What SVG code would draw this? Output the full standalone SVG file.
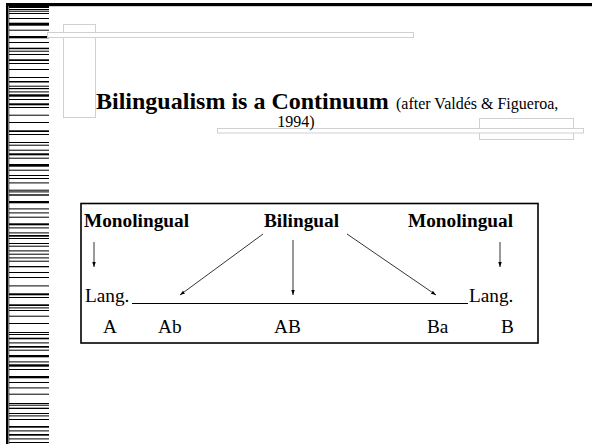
<svg xmlns="http://www.w3.org/2000/svg" width="592" height="444" viewBox="0 0 592 444">
<style>
.bc rect{fill:#000}
.deco{fill:#fff;stroke:#d0d0d0;stroke-width:1}
text{font-family:"Liberation Serif","Times New Roman",serif;fill:#000}
.tb{font-weight:bold;font-size:19.3px}
.tr{font-size:19.3px}
.tt{font-weight:bold;font-size:24px}
.ts{font-size:16px}
.ln{stroke:#000;stroke-width:0.8;fill:none}
</style>
<defs>
<marker id="ah" viewBox="0 0 10 10" refX="10" refY="5" markerWidth="5" markerHeight="5" orient="auto" markerUnits="userSpaceOnUse">
<path d="M0,1.5 L10,5 L0,8.5 z" fill="#000"/>
</marker>
</defs>
<rect width="592" height="444" fill="#fff"/>
<g id="frame">
<rect x="6" y="3" width="586" height="3.2" fill="#000"/>
<rect x="6" y="3" width="2.6" height="441" fill="#000"/>
<rect x="8.6" y="6" width="1" height="438" fill="#999"/>
</g>
<g id="barcode" class="bc">
<rect x="9" y="4.7" width="40" height="3.3"/>
<rect x="9" y="9" width="40" height="1"/>
<rect x="9" y="10.7" width="40" height="1"/>
<rect x="9" y="13" width="40" height="1"/>
<rect x="9" y="18" width="40" height="1"/>
<rect x="9" y="22.7" width="40" height="3"/>
<rect x="9" y="29.7" width="40" height="1"/>
<rect x="9" y="36" width="40" height="2.3"/>
<rect x="9" y="42" width="40" height="1"/>
<rect x="9" y="47.7" width="40" height="1.5"/>
<rect x="9" y="50.7" width="40" height="1"/>
<rect x="9" y="54" width="40" height="1"/>
<rect x="9" y="59.3" width="40" height="1.7"/>
<rect x="9" y="63" width="40" height="1"/>
<rect x="9" y="69" width="40" height="1"/>
<rect x="9" y="77" width="40" height="1"/>
<rect x="9" y="81" width="40" height="1.5"/>
<rect x="9" y="85.7" width="40" height="1"/>
<rect x="9" y="88" width="40" height="1.2"/>
<rect x="9" y="91.4" width="40" height="1"/>
<rect x="9" y="94.3" width="40" height="2.4"/>
<rect x="9" y="99" width="40" height="1"/>
<rect x="9" y="103.3" width="40" height="2"/>
<rect x="9" y="107" width="40" height="1"/>
<rect x="9" y="114.7" width="40" height="1"/>
<rect x="9" y="122" width="40" height="1"/>
<rect x="9" y="130.3" width="40" height="1.7"/>
<rect x="9" y="134" width="40" height="1"/>
<rect x="9" y="142" width="40" height="1"/>
<rect x="9" y="144.7" width="40" height="1"/>
<rect x="9" y="149.7" width="40" height="1"/>
<rect x="9" y="153.3" width="40" height="2"/>
<rect x="9" y="157.7" width="40" height="1"/>
<rect x="9" y="164" width="40" height="2.7"/>
<rect x="9" y="169.7" width="40" height="1"/>
<rect x="9" y="175" width="40" height="1"/>
<rect x="9" y="178" width="40" height="1"/>
<rect x="9" y="182.4" width="40" height="1"/>
<rect x="9" y="189.7" width="40" height="1"/>
<rect x="9" y="191.4" width="40" height="1"/>
<rect x="9" y="194.3" width="40" height="1.4"/>
<rect x="9" y="201" width="40" height="2.3"/>
<rect x="9" y="208.4" width="40" height="1"/>
<rect x="9" y="212.4" width="40" height="1"/>
<rect x="9" y="216.7" width="40" height="1"/>
<rect x="9" y="223.3" width="40" height="2"/>
<rect x="9" y="227.4" width="40" height="1"/>
<rect x="9" y="232.4" width="40" height="1"/>
<rect x="9" y="235" width="40" height="1.7"/>
<rect x="9" y="238" width="40" height="1"/>
<rect x="9" y="243" width="40" height="1"/>
<rect x="9" y="245.7" width="40" height="1"/>
<rect x="9" y="250.4" width="40" height="1"/>
<rect x="9" y="253.7" width="40" height="1"/>
<rect x="9" y="257.4" width="40" height="1"/>
<rect x="9" y="260.7" width="40" height="1"/>
<rect x="9" y="266" width="40" height="1.3"/>
<rect x="9" y="272" width="40" height="1"/>
<rect x="9" y="277" width="40" height="1"/>
<rect x="9" y="285.4" width="40" height="1"/>
<rect x="9" y="293.3" width="40" height="2"/>
<rect x="9" y="297" width="40" height="1"/>
<rect x="9" y="304.3" width="40" height="1.7"/>
<rect x="9" y="307.4" width="40" height="1"/>
<rect x="9" y="310" width="40" height="1"/>
<rect x="9" y="315.7" width="40" height="1"/>
<rect x="9" y="323" width="40" height="1"/>
<rect x="9" y="332" width="40" height="1"/>
<rect x="9" y="334" width="40" height="1"/>
<rect x="9" y="337.7" width="40" height="1.6"/>
<rect x="9" y="342.4" width="40" height="1"/>
<rect x="9" y="346" width="40" height="1.7"/>
<rect x="9" y="349.7" width="40" height="1"/>
<rect x="9" y="355" width="40" height="2.3"/>
<rect x="9" y="361.4" width="40" height="1"/>
<rect x="9" y="364.3" width="40" height="2.4"/>
<rect x="9" y="369" width="40" height="1"/>
<rect x="9" y="376" width="40" height="2.3"/>
<rect x="9" y="382" width="40" height="1"/>
<rect x="9" y="387.4" width="40" height="1"/>
<rect x="9" y="393.7" width="40" height="1"/>
<rect x="9" y="403" width="40" height="1"/>
<rect x="9" y="404.7" width="40" height="1"/>
<rect x="9" y="407.7" width="40" height="1.3"/>
<rect x="9" y="413" width="40" height="1"/>
<rect x="9" y="415.4" width="40" height="1"/>
<rect x="9" y="419" width="40" height="1"/>
<rect x="9" y="426" width="40" height="1.7"/>
<rect x="9" y="430.4" width="40" height="1"/>
<rect x="9" y="434" width="40" height="1.7"/>
<rect x="9" y="438.4" width="40" height="1"/>
<rect x="9" y="442" width="40" height="1"/>
</g>
<g id="decor">
<rect class="deco" x="63.5" y="24.5" width="32" height="93" fill="none"/>
<rect class="deco" x="47.5" y="32.5" width="366" height="5"/>
<rect class="deco" x="479.5" y="118.5" width="94" height="21"/>
<rect class="deco" x="217.5" y="128.5" width="366" height="4.5"/>
</g>
<g id="title">
<text class="tt" x="96" y="109">Bilingualism is a Continuum</text>
<text class="ts" x="396" y="109">(after Valdés &amp; Figueroa,</text>
<text class="ts" x="296" y="127" text-anchor="middle">1994)</text>
</g>
<g id="panel">
<rect x="81" y="203.5" width="457" height="139.5" fill="none" stroke="#000" stroke-width="1.6"/>
</g>
<g id="mono-left"><text class="tb" x="84" y="227">Monolingual</text></g>
<g id="bilingual"><text class="tb" x="264" y="227">Bilingual</text></g>
<g id="mono-right"><text class="tb" x="408" y="227">Monolingual</text></g>
<g id="lang-left"><text class="tr" x="85" y="302">Lang.</text></g>
<g id="lang-right"><text class="tr" x="469" y="302">Lang.</text></g>
<g id="continuum-line"><line x1="132" y1="303.5" x2="468" y2="303.5" stroke="#000" stroke-width="1"/></g>
<g id="labels">
<text class="tr" x="103" y="333">A</text>
<text class="tr" x="158" y="333">Ab</text>
<text class="tr" x="274" y="333">AB</text>
<text class="tr" x="427" y="333">Ba</text>
<text class="tr" x="501" y="333">B</text>
</g>
<g id="connectors">
<line class="ln" x1="94" y1="242" x2="94" y2="267" marker-end="url(#ah)"/>
<line class="ln" x1="500" y1="242" x2="500" y2="267" marker-end="url(#ah)"/>
<line class="ln" x1="263" y1="234" x2="180" y2="295" marker-end="url(#ah)"/>
<line class="ln" x1="293" y1="240" x2="293" y2="295" marker-end="url(#ah)"/>
<line class="ln" x1="347" y1="234" x2="436" y2="295" marker-end="url(#ah)"/>
</g>
</svg>
